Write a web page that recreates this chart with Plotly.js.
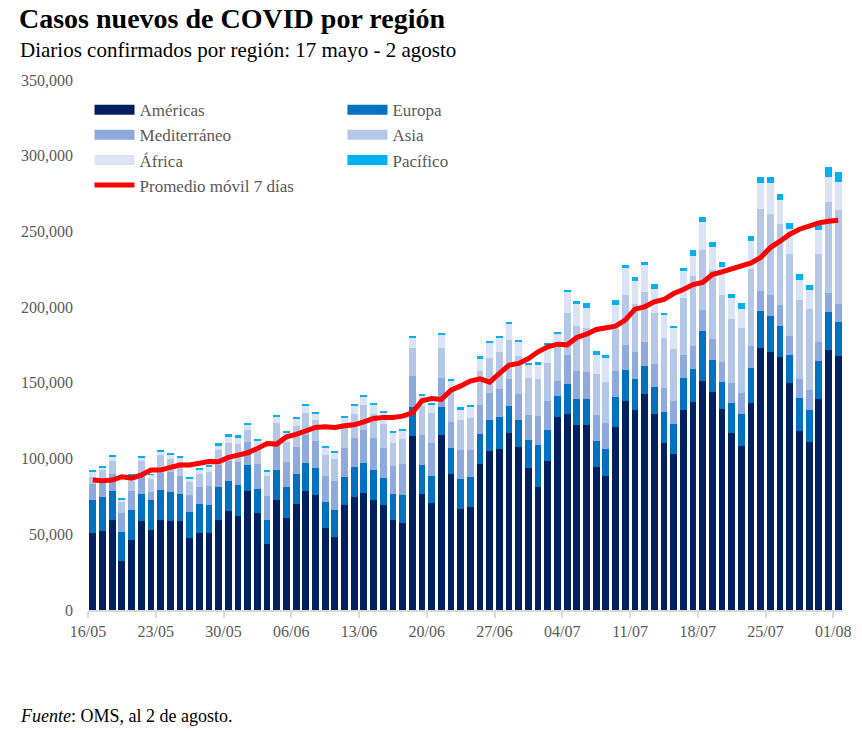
<!DOCTYPE html>
<html>
<head>
<meta charset="utf-8">
<script src="https://cdn.plot.ly/plotly-3.0.1.min.js"></script>
<style>
  html, body { margin: 0; padding: 0; background: #ffffff; }
  #chart { width: 862px; height: 732px; }
</style>
</head>
<body>
<div id="chart"></div>
<script>
// Daily confirmed cases by WHO region, 17 May - 2 Aug (78 days)
const startDate = '2020-05-17';
const numDays = 78;

const americas = [50820,52140,59400,32340,46200,58740,52800,59400,58740,58740,47520,50820,50820,59400,65340,62040,78540,64020,43560,72600,
  60720,69960,78540,75900,54120,48180,69300,74580,77220,72600,69300,59400,57420,114840,76560,70620,115500,89760,66660,67980,
  96360,104940,106260,116820,107580,93720,81180,98340,127380,129360,122100,122100,94380,88440,120780,137940,132000,142560,129360,110220,
  102960,132000,137280,151140,143880,132660,116820,108240,136620,172920,170280,166980,149820,118140,110880,139260,171600,167640];

const europa = [21780,22440,19140,19140,19800,17820,19800,19800,19140,17820,17160,19140,18480,21780,19800,20460,17160,15840,15840,19800,
  20460,19800,18480,17820,17160,17820,18480,19800,19800,19800,17820,17160,18480,19140,19140,17820,18480,17160,19800,19800,
  19800,20460,21120,17820,17820,18480,27720,20460,14000,19800,17160,17160,17160,17820,19800,20460,20460,18480,17820,20460,
  19800,21120,21780,33000,21120,17820,19800,21120,23100,24420,23760,20460,18480,21780,21120,25080,25080,22440];

const mediterraneo = [10560,9020,11220,12540,12540,11440,5280,11440,13420,11880,11220,11220,12540,14520,13200,15180,15180,16500,15840,15840,
  16500,17820,18480,17820,17160,19140,19140,19140,21780,21120,19800,18480,20460,20460,19800,21780,19140,17160,19140,17820,
  19140,17820,18480,17820,17160,16500,19140,19140,10000,19140,18480,17820,17160,17160,17160,16500,17820,15840,15180,15840,
  15180,15180,15180,13860,13860,13200,13200,13860,14520,13200,13860,13860,12540,12540,13200,12540,12540,11880];

const asia = [4840,8800,8580,7260,6600,10340,8580,11660,8360,9240,8580,8580,9240,9900,11880,11880,7920,11220,13200,15180,
  13200,13860,14520,13860,13860,14520,13200,15840,16500,15840,15840,15180,16500,18480,19140,19800,19800,19800,19800,21120,
  22440,23100,24420,25740,25080,24420,24420,25080,22000,27720,29700,29040,27060,27060,27720,33000,31680,33000,33660,33000,
  34320,37620,46200,39600,45540,44220,42240,42900,50820,54120,53460,53460,54120,52140,53460,58080,60060,62040];

const africa = [3080,1760,2640,1980,3740,2640,2860,2640,3300,3300,2640,2640,3960,3300,3960,3960,3960,3960,3300,3960,
  5940,5280,4620,3960,4620,4620,6600,5280,5280,6600,7920,6600,5940,7260,6600,5940,8580,7920,7260,7260,
  8580,9900,9240,10560,9900,8580,9240,12540,9000,13860,14520,13200,12540,15840,15840,17820,15180,17820,15840,15180,
  13860,17820,13200,18480,15180,18480,13860,12540,18480,17160,20460,15840,16500,13200,12540,15840,16500,18480];

const pacifico = [1320,880,1320,880,880,660,440,660,660,660,660,1320,660,1320,1980,1980,660,1320,660,1320,
  1320,660,1320,1320,1320,660,1320,1320,1320,660,660,1320,660,660,1320,660,1320,660,1320,1320,
  1320,1320,1320,1320,660,1320,1980,660,660,1320,1980,3300,2640,1980,3300,1980,2640,1980,3300,1320,
  1320,1980,3960,3300,3300,3300,2640,3960,3300,3960,3960,3960,3960,3960,3300,3300,6600,6600];

const promedio = [85800,85360,85800,88000,87120,89100,92400,92400,94160,95700,95700,96800,98120,97900,100760,102300,103840,106700,110000,109560,
  114400,115940,118140,120560,121000,120560,121660,122320,124300,126500,127160,127160,128040,130240,138160,139700,139040,145200,148000,151140,
  152680,150480,156200,161700,162800,166100,170500,173800,175560,175120,179960,182160,185240,186560,187440,191400,198660,200200,203500,205040,
  209000,211640,214940,216260,221540,223300,225280,227260,229240,232760,239360,243540,248160,251460,253440,255640,256740,257400];

const seriesNames = ['Américas','Europa','Mediterráneo','Asia','África','Pacífico'];
const lineName = 'Promedio móvil 7 días';
const tickLabels = ['16/05','23/05','30/05','06/06','13/06','20/06','27/06','04/07','11/07','18/07','25/07','01/08'];
const tickDates = ['2020-05-16','2020-05-23','2020-05-30','2020-06-06','2020-06-13','2020-06-20','2020-06-27','2020-07-04','2020-07-11','2020-07-18','2020-07-25','2020-08-01'];

// consecutive calendar days (categories)
const dates = [];
{
  const d0 = new Date(startDate + 'T00:00:00Z');
  for (let i = 0; i < numDays; i++) {
    const d = new Date(d0.getTime() + i * 86400000);
    dates.push(d.toISOString().slice(0, 10));
  }
}

const colors = ['#002060', '#0070C0', '#8EA9DB', '#B4C7E7', '#DAE3F3', '#00B0F0'];
const values = [americas, europa, mediterraneo, asia, africa, pacifico];
const legendOf = ['legend', 'legend2', 'legend', 'legend2', 'legend', 'legend2'];

const traces = [];
values.forEach((v, k) => {
  traces.push({
    type: 'bar', x: dates, y: v, name: seriesNames[k],
    marker: { color: colors[k], line: { width: 0 } },
    showlegend: false, hoverinfo: 'x+y+name'
  });
});
traces.push({
  type: 'scatter', mode: 'lines', x: dates, y: promedio, name: lineName,
  line: { color: '#FF0000', width: 5, shape: 'linear' },
  showlegend: false
});
// legend entries (no data)
values.forEach((v, k) => {
  traces.push({
    type: 'scatter', mode: 'lines', x: [null], y: [null], name: seriesNames[k],
    line: { color: colors[k], width: 10 }, legend: legendOf[k], showlegend: true, hoverinfo: 'skip'
  });
});
traces.push({
  type: 'scatter', mode: 'lines', x: [null], y: [null], name: lineName,
  line: { color: '#FF0000', width: 5 }, legend: 'legend', showlegend: true, hoverinfo: 'skip'
});

const serif = '"Liberation Serif", "DejaVu Serif", serif';
const gray = '#595959';

const tickVals = tickDates.map(d => d + ' 12:00');

const layout = {
  width: 862, height: 732,
  paper_bgcolor: '#ffffff', plot_bgcolor: '#ffffff',
  margin: { l: 88, r: 19, t: 80, b: 122 },
  barmode: 'stack', bargap: 0.3,
  font: { family: serif, color: gray, size: 15 },
  separators: '.,',
  title: {
    text: '<b>Casos nuevos de COVID por región</b>',
    font: { family: serif, size: 28, color: '#000000' },
    x: 19 / 862, xanchor: 'left', xref: 'container',
    y: 1 - 18 / 732, yanchor: 'middle', yref: 'container'
  },
  annotations: [
    { text: 'Diarios confirmados por región: 17 mayo - 2 agosto', xref: 'paper', yref: 'paper',
      x: -70 / 755, y: 1 + 30 / 530, xanchor: 'left', yanchor: 'middle', showarrow: false,
      font: { family: serif, size: 21, color: '#000000' } },
    { text: '<i>Fuente</i>: OMS, al 2 de agosto.', xref: 'paper', yref: 'paper',
      x: -70 / 755, y: -106 / 530, xanchor: 'left', yanchor: 'middle', showarrow: false,
      font: { family: serif, size: 18, color: '#000000' } }
  ],
  xaxis: {
    type: 'date',
    range: ['2020-05-16 12:00', '2020-08-02 12:00'],
    tickmode: 'array', tickvals: tickVals, ticktext: tickLabels,
    ticks: 'outside', ticklen: 6, tickwidth: 2, tickcolor: '#d9d9d9',
    showline: true, linecolor: '#d9d9d9', linewidth: 2,
    showgrid: false, zeroline: false,
    tickfont: { family: serif, size: 16, color: gray }
  },
  yaxis: {
    range: [0, 350000], dtick: 50000, tick0: 0,
    tickformat: ',d',
    showgrid: false, zeroline: false, showline: false,
    ticks: '', ticklabelstandoff: 14,
    tickfont: { family: serif, size: 16, color: gray }
  },
  legend: {
    x: 0.002, y: 0.977, xanchor: 'left', yanchor: 'top',
    orientation: 'v', bgcolor: 'rgba(0,0,0,0)', traceorder: 'normal',
    font: { family: serif, size: 17, color: gray },
    itemwidth: 40, tracegroupgap: 0
  },
  legend2: {
    x: 0.337, y: 0.977, xanchor: 'left', yanchor: 'top',
    orientation: 'v', bgcolor: 'rgba(0,0,0,0)', traceorder: 'normal',
    font: { family: serif, size: 17, color: gray },
    itemwidth: 40, tracegroupgap: 0
  },
  showlegend: true
};

Plotly.newPlot('chart', traces, layout, { displayModeBar: false, responsive: false });
</script>
</body>
</html>
